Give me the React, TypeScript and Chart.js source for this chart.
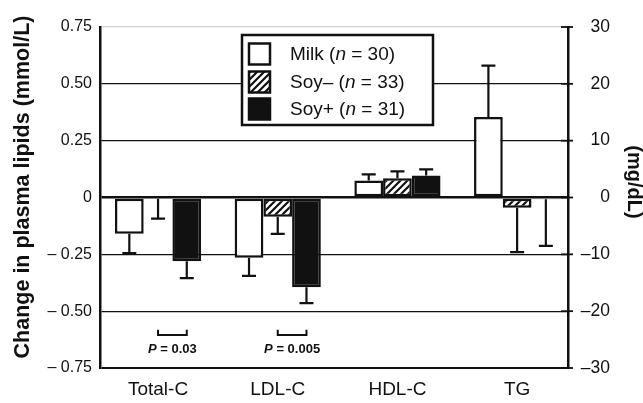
import React, { useEffect, useRef } from 'react';
import { Chart, registerables } from 'chart.js';

Chart.register(...registerables);

// ---- data ----
const categories = ['Total-C', 'LDL-C', 'HDL-C', 'TG'];
const seriesNames = ['Milk', 'Soy–', 'Soy+'];
const seriesN = [30, 33, 31];
const milkValues = [-0.16, -0.265, 0.075, 0.354];
const milkErrors = [0.085, 0.08, 0.027, 0.226];
const soyMinusValues = [-0.006, -0.085, 0.085, -0.045];
const soyMinusErrors = [0.087, 0.075, 0.03, 0.195];
const soyPlusValues = [-0.28, -0.395, 0.097, -0.008];
const soyPlusErrors = [0.075, 0.07, 0.027, 0.205];
const leftTickValues = [-0.75, -0.5, -0.25, 0, 0.25, 0.5, 0.75];
const rightTickValues = [-30, -20, -10, 0, 10, 20, 30];
const pCategoryIndex = [0, 1];
const pLabels = ['0.03', '0.005'];

const FONT = '"Liberation Sans", Arial, Helvetica, sans-serif';
const INK = '#111';

function makeHatch(): CanvasPattern | string {
  const s = 7;
  const p = document.createElement('canvas');
  p.width = s;
  p.height = s;
  const c = p.getContext('2d');
  if (!c) return '#888';
  c.fillStyle = '#fff';
  c.fillRect(0, 0, s, s);
  c.strokeStyle = INK;
  c.lineWidth = 2.2;
  c.beginPath();
  c.moveTo(-1, s + 1);
  c.lineTo(s + 1, -1);
  c.moveTo(-s / 2 - 1, s / 2 + 1);
  c.lineTo(s / 2 + 1, -s / 2 - 1);
  c.moveTo(s / 2 - 1, s * 1.5 + 1);
  c.lineTo(s * 1.5 + 1, s / 2 - 1);
  c.stroke();
  const pat = c.createPattern(p, 'repeat');
  return pat || '#888';
}

const errorBarPlugin = {
  id: 'errorBars',
  afterDatasetsDraw(chart: any) {
    const ctx = chart.ctx;
    const yScale = chart.scales.y;
    chart.data.datasets.forEach((ds: any, di: number) => {
      const meta = chart.getDatasetMeta(di);
      meta.data.forEach((el: any, i: number) => {
        const v = ds.data[i].y;
        const e = ds.errors[i];
        const end = v >= 0 ? v + e : v - e;
        const y0 = yScale.getPixelForValue(v);
        const y1 = yScale.getPixelForValue(end);
        ctx.save();
        ctx.strokeStyle = INK;
        ctx.lineWidth = 2.2;
        ctx.beginPath();
        ctx.moveTo(el.x, y0);
        ctx.lineTo(el.x, y1);
        ctx.moveTo(el.x - 7, y1);
        ctx.lineTo(el.x + 7, y1);
        ctx.stroke();
        ctx.restore();
      });
    });
  },
};

function drawSegments(ctx: CanvasRenderingContext2D, x: number, y: number, segs: [string, string][]) {
  let cx = x;
  segs.forEach(([text, font]) => {
    ctx.font = font;
    ctx.fillText(text, cx, y);
    cx += ctx.measureText(text).width;
  });
  return cx - x;
}

function measureSegments(ctx: CanvasRenderingContext2D, segs: [string, string][]) {
  let w = 0;
  segs.forEach(([text, font]) => {
    ctx.font = font;
    w += ctx.measureText(text).width;
  });
  return w;
}

const decorPlugin = {
  id: 'decor',
  afterDraw(chart: any) {
    const ctx: CanvasRenderingContext2D = chart.ctx;
    const yScale = chart.scales.y;
    const y2 = chart.scales.y2;
    const area = chart.chartArea;
    ctx.save();

    // right axis tick marks crossing the axis line
    ctx.strokeStyle = INK;
    ctx.lineWidth = 1.8;
    rightTickValues.forEach((v) => {
      const py = y2.getPixelForValue(v);
      ctx.beginPath();
      ctx.moveTo(area.right - 7, py);
      ctx.lineTo(area.right + 5, py);
      ctx.stroke();
    });

    // legend box
    const lx = 242, ly = 35, lw = 191, lh = 90;
    ctx.fillStyle = '#fff';
    ctx.fillRect(lx, ly, lw, lh);
    ctx.lineWidth = 2.5;
    ctx.strokeStyle = INK;
    ctx.strokeRect(lx, ly, lw, lh);
    const rowY = [54, 82, 109];
    const fills = ['#fff', chart.data.datasets[1].backgroundColor, INK];
    seriesNames.forEach((name, i) => {
      const sx = 249, sy = rowY[i] - 10.5, ss = 21;
      ctx.fillStyle = fills[i];
      ctx.fillRect(sx, sy, ss, ss);
      ctx.lineWidth = 2.5;
      ctx.strokeStyle = INK;
      ctx.strokeRect(sx, sy, ss, ss);
      ctx.fillStyle = INK;
      ctx.textBaseline = 'middle';
      ctx.textAlign = 'left';
      const reg = `19px ${FONT}`;
      const ital = `italic 19px ${FONT}`;
      drawSegments(ctx, 290, rowY[i] + 1, [
        [`${name} (`, reg],
        ['n', ital],
        [` = ${seriesN[i]})`, reg],
      ]);
    });

    // significance brackets and P values
    pCategoryIndex.forEach((ci, k) => {
      const x1 = chart.getDatasetMeta(1).data[ci].x;
      const x2 = chart.getDatasetMeta(2).data[ci].x;
      const yt = yScale.getPixelForValue(-0.582);
      const yb = yScale.getPixelForValue(-0.605);
      ctx.strokeStyle = INK;
      ctx.lineWidth = 2;
      ctx.beginPath();
      ctx.moveTo(x1, yt);
      ctx.lineTo(x1, yb);
      ctx.lineTo(x2, yb);
      ctx.lineTo(x2, yt);
      ctx.stroke();
      const segs: [string, string][] = [
        ['P', `italic bold 13px ${FONT}`],
        [` = ${pLabels[k]}`, `bold 13px ${FONT}`],
      ];
      const w = measureSegments(ctx, segs);
      ctx.fillStyle = INK;
      ctx.textBaseline = 'middle';
      ctx.textAlign = 'left';
      drawSegments(ctx, (x1 + x2) / 2 - w / 2, yScale.getPixelForValue(-0.668), segs);
    });

    // axis titles
    ctx.fillStyle = INK;
    ctx.textAlign = 'center';
    ctx.textBaseline = 'middle';
    ctx.font = `bold 21.5px ${FONT}`;
    ctx.save();
    ctx.translate(23, 187);
    ctx.rotate(-Math.PI / 2);
    ctx.fillText('Change in plasma lipids (mmol/L)', 0, 0);
    ctx.restore();
    ctx.font = `bold 20px ${FONT}`;
    ctx.save();
    ctx.translate(634, 182);
    ctx.rotate(Math.PI / 2);
    ctx.fillText('(mg/dL)', 0, 0);
    ctx.restore();

    ctx.restore();
  },
};

export default function App() {
  const canvasRef = useRef<HTMLCanvasElement | null>(null);

  useEffect(() => {
    const canvas = canvasRef.current;
    if (!canvas) return;
    const hatch = makeHatch();
    const toPoints = (vals: number[]) => vals.map((v, i) => ({ x: i, y: v }));
    const common = {
      borderColor: INK,
      borderWidth: 2.5,
      borderSkipped: false,
      categoryPercentage: 0.72,
      barPercentage: 1,
      yAxisID: 'y',
    };
    const chart = new Chart(canvas, {
      type: 'bar',
      data: {
        datasets: [
          { ...common, label: seriesNames[0], data: toPoints(milkValues), errors: milkErrors, backgroundColor: '#fff' } as any,
          { ...common, label: seriesNames[1], data: toPoints(soyMinusValues), errors: soyMinusErrors, backgroundColor: hatch } as any,
          { ...common, label: seriesNames[2], data: toPoints(soyPlusValues), errors: soyPlusErrors, backgroundColor: INK } as any,
        ],
      },
      options: {
        animation: false,
        responsive: false,
        devicePixelRatio: 1,
        layout: { padding: { top: 27, left: 0, right: 33, bottom: 0 } },
        plugins: { legend: { display: false }, tooltip: { enabled: false } },
        scales: {
          x: {
            type: 'linear',
            min: -0.485,
            max: 3.425,
            offset: false,
            grid: { display: false },
            border: { display: false },
            afterBuildTicks: (axis: any) => {
              axis.ticks = categories.map((_, i) => ({ value: i }));
            },
            ticks: {
              autoSkip: false,
              maxRotation: 0,
              padding: 2,
              color: INK,
              font: { family: FONT, size: 19 },
              callback: (v: any) => categories[Math.round(Number(v))] ?? '',
            },
            afterFit: (axis: any) => {
              axis.height = 35;
            },
          },
          y: {
            position: 'left',
            min: -0.75,
            max: 0.75,
            afterBuildTicks: (axis: any) => {
              axis.ticks = leftTickValues.map((v) => ({ value: v }));
            },
            ticks: {
              padding: 8,
              color: INK,
              font: { family: FONT, size: 16 },
              callback: (v: any) => {
                const n = Number(v);
                if (Math.abs(n) < 1e-9) return '0';
                return (n < 0 ? '– ' : '') + Math.abs(n).toFixed(2);
              },
            },
            grid: {
              drawTicks: false,
              color: (c: any) => (c.tick && c.tick.value > 0.7 ? 'rgba(0,0,0,0.18)' : INK),
              lineWidth: (c: any) => {
                const v = c.tick ? c.tick.value : 1;
                if (Math.abs(v) < 1e-9) return 2.5;
                if (v < -0.7) return 2;
                return 1.2;
              },
            },
            border: { display: true, width: 2.5, color: INK },
            afterFit: (axis: any) => {
              axis.width = 100;
            },
          },
          y2: {
            position: 'right',
            min: -30,
            max: 30,
            afterBuildTicks: (axis: any) => {
              axis.ticks = rightTickValues.map((v) => ({ value: v }));
            },
            ticks: {
              padding: 14,
              crossAlign: 'far',
              color: INK,
              font: { family: FONT, size: 17.5 },
              callback: (v: any) => {
                const n = Number(v);
                if (n === 0) return '0';
                return (n < 0 ? '–' : '') + Math.abs(n);
              },
            },
            grid: { display: false },
            border: { display: true, width: 2.5, color: INK },
            afterFit: (axis: any) => {
              axis.width = 42;
            },
          },
        },
      } as any,
      plugins: [errorBarPlugin, decorPlugin],
    });
    return () => {
      chart.destroy();
    };
  }, []);

  return (
    <div style={{ position: 'absolute', left: 0, top: 0, width: 643, height: 403, background: '#fff' }}>
      <canvas ref={canvasRef} width={643} height={403} style={{ display: 'block', width: 643, height: 403 }} />
    </div>
  );
}
